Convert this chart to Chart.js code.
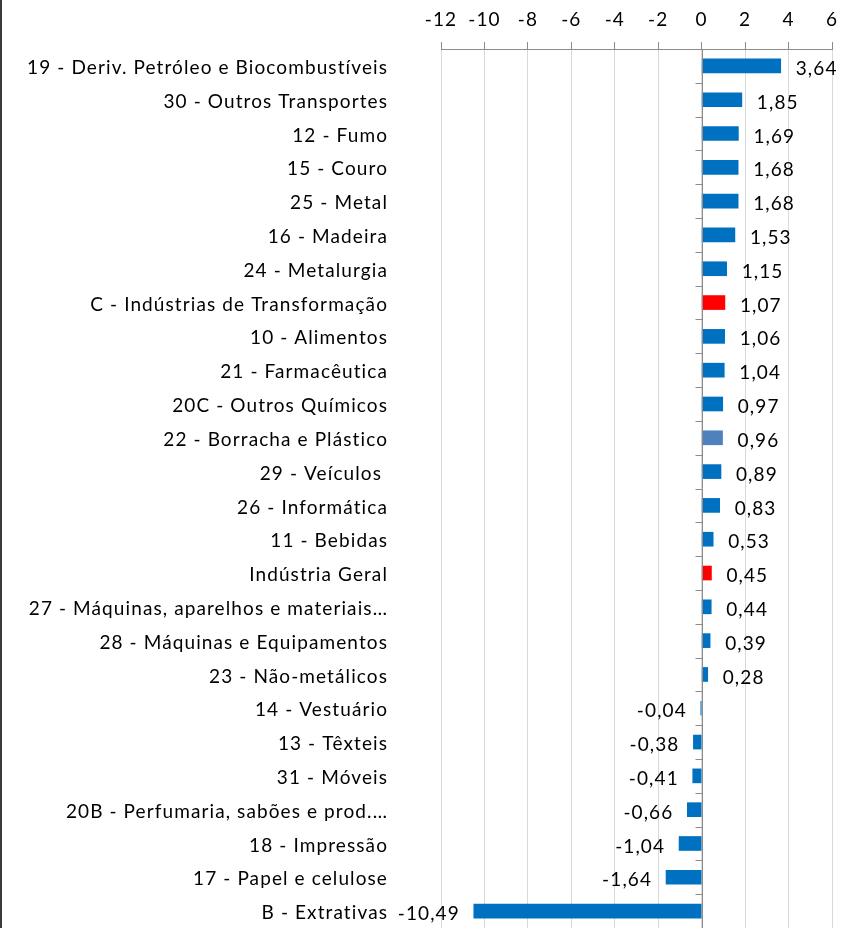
<!DOCTYPE html>
<html>
<head>
<meta charset="utf-8">
<script src="https://cdn.jsdelivr.net/npm/chart.js@4"></script>
<style>
  html, body { margin: 0; padding: 0; background: #fff; }
  #wrap { width: 851px; height: 928px; position: relative; }
</style>
</head>
<body>
<div id="wrap"><canvas id="barChart"></canvas></div>
<script>
const categories = [
  "19 - Deriv. Petróleo e Biocombustíveis",
  "30 - Outros Transportes",
  "12 - Fumo",
  "15 - Couro",
  "25 - Metal",
  "16 - Madeira",
  "24 - Metalurgia",
  "C - Indústrias de Transformação",
  "10 - Alimentos",
  "21 - Farmacêutica",
  "20C - Outros Químicos",
  "22 - Borracha e Plástico",
  "29 - Veículos ",
  "26 - Informática",
  "11 - Bebidas",
  "Indústria Geral",
  "27 - Máquinas, aparelhos e materiais…",
  "28 - Máquinas e Equipamentos",
  "23 - Não-metálicos",
  "14 - Vestuário",
  "13 - Têxteis",
  "31 - Móveis",
  "20B - Perfumaria, sabões e prod.…",
  "18 - Impressão",
  "17 - Papel e celulose",
  "B - Extrativas",
];
const values = [
  3.64, 1.85, 1.69, 1.68, 1.68, 1.53, 1.15, 1.07, 1.06, 1.04, 0.97, 0.96, 0.89,
  0.83, 0.53, 0.45, 0.44, 0.39, 0.28, -0.04, -0.38, -0.41, -0.66, -1.04, -1.64,
  -10.49,
];
const xTicks = [-12, -10, -8, -6, -4, -2, 0, 2, 4, 6];
const totals = ["C - Indústrias de Transformação", "Indústria Geral"];
const lighter = ["22 - Borracha e Plástico"];

const FONT = "Lato";
const SPACING = "1.1px";

function barColor(ctx) {
  const name = categories[ctx.dataIndex];
  if (totals.includes(name)) return "#ff0000";
  if (lighter.includes(name)) return "#4f81bd";
  return "#0070c0";
}

// value labels, zero line ticks and the left frame
const extras = {
  id: "extras",
  beforeDraw(chart) {
    const c = chart.ctx;
    c.letterSpacing = SPACING;
    c.save();
    c.strokeStyle = "#3a3a3a";
    c.lineWidth = 2;
    c.beginPath();
    c.moveTo(1, 0);
    c.lineTo(1, chart.height);
    c.stroke();
    c.restore();
  },
  afterDatasetsDraw(chart) {
    const c = chart.ctx;
    const xs = chart.scales.x;
    const ys = chart.scales.y;
    const x0 = Math.round(xs.getPixelForValue(0)) + 0.5;
    c.save();
    c.strokeStyle = "#8c8c8c";
    c.lineWidth = 1;
    c.beginPath();
    c.moveTo(x0, chart.chartArea.top);
    c.lineTo(x0, chart.chartArea.bottom);
    for (let i = 0; i < categories.length; i++) {
      const y = Math.round(ys.getPixelForValue(i + 0.5)) + 0.5;
      c.moveTo(x0 - 7, y);
      c.lineTo(x0, y);
    }
    c.stroke();

    c.fillStyle = "#000";
    c.font = "19px " + FONT;
    c.letterSpacing = SPACING;
    c.textBaseline = "middle";
    const meta = chart.getDatasetMeta(0);
    meta.data.forEach((bar, i) => {
      const v = values[i];
      const txt = v.toFixed(2).replace(".", ",");
      if (v >= 0) {
        c.textAlign = "left";
        c.fillText(txt, bar.x + 15, bar.y + 3);
      } else {
        c.textAlign = "right";
        c.fillText(txt, bar.x - 14, bar.y + 3);
      }
    });
    c.restore();
  },
};

new Chart(document.getElementById("barChart"), {
  type: "bar",
  data: {
    labels: categories,
    datasets: [
      {
        data: values,
        backgroundColor: barColor,
        barThickness: 14,
      },
    ],
  },
  options: {
    indexAxis: "y",
    responsive: true,
    maintainAspectRatio: false,
    animation: false,
    layout: { padding: { top: 0, right: 19, bottom: 0, left: 0 } },
    plugins: {
      legend: { display: false },
      tooltip: { enabled: false },
    },
    scales: {
      x: {
        position: "top",
        min: -12,
        max: 6,
        afterBuildTicks(scale) {
          scale.ticks = xTicks.map((v) => ({ value: v }));
        },
        afterFit(scale) {
          scale.height = 49;
          scale.paddingLeft = 0;
          scale.paddingRight = 0;
        },
        ticks: {
          color: "#000",
          font: { family: FONT, size: 19 },
          padding: 11,
          maxRotation: 0,
        },
        grid: {
          color: "#d9d9d9",
          tickColor: "#8c8c8c",
          tickLength: 7,
        },
        border: { color: "#8c8c8c" },
      },
      y: {
        afterFit(scale) {
          scale.width = 441;
          scale.paddingTop = 0;
          scale.paddingBottom = 0;
        },
        ticks: {
          color: "#000",
          font: { family: FONT, size: 19 },
          padding: 53,
          labelOffset: 2,
          autoSkip: false,
        },
        grid: { display: false, drawTicks: false },
        border: { display: false },
      },
    },
  },
  plugins: [extras],
});
</script>
</body>
</html>
